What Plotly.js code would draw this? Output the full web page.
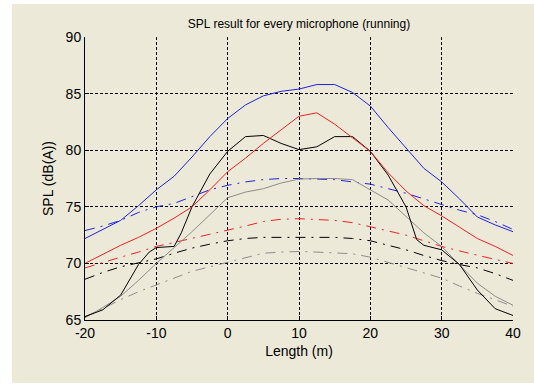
<!DOCTYPE html>
<html>
<head>
<meta charset="utf-8">
<script src="https://cdn.plot.ly/plotly-3.0.1.min.js"></script>
<style>
html,body{margin:0;padding:0;background:#ffffff;width:534px;height:385px;overflow:hidden;}
#chart{position:absolute;left:12px;top:4px;width:522px;height:379px;}
</style>
</head>
<body>
<div id="chart"></div>
<script>
// Data
var xPos = [-20,-17.5,-15,-12.5,-10,-7.5,-5,-2.5,0,2.5,5,7.5,10,12.5,15,17.5,20,22.5,25,27.5,30,32.5,35,37.5,40];
var blueSolid = [72.2,73.0,73.8,75.1,76.5,77.7,79.4,81.2,82.8,84.0,84.8,85.2,85.4,85.8,85.8,85.1,83.9,82.0,80.2,78.4,77.2,75.7,74.1,73.4,72.8];
var blueDash  = [72.9,73.3,73.8,74.5,75.0,75.3,75.9,76.5,76.9,77.2,77.4,77.5,77.5,77.45,77.4,77.2,77.0,76.6,76.2,75.7,75.2,74.7,74.3,73.7,73.0];
var redSolid  = [70.0,70.8,71.6,72.3,73.1,74.0,75.0,76.5,78.1,79.3,80.6,81.8,83.0,83.3,82.3,81.1,79.9,78.0,76.4,75.1,74.2,73.2,72.2,71.5,70.7];
var redDash   = [69.6,70.1,70.55,71.0,71.5,71.85,72.2,72.6,72.95,73.3,73.7,73.9,73.95,73.9,73.8,73.6,73.25,72.9,72.5,72.0,71.5,71.1,70.7,70.35,70.0];
var blackX    = [-20,-17.5,-15,-12.5,-11,-10,-7.5,-6.5,-5,-2.5,0,2.5,5,7.5,10,12.5,15,17.5,20,22.5,25,26.5,27.5,30,32.5,35,37.5,40];
var blackSolid= [65.3,65.9,67.2,69.9,71.0,71.4,71.5,72.7,75.0,77.9,79.9,81.2,81.3,80.6,80.05,80.3,81.2,81.2,79.9,77.8,75.0,72.1,71.6,71.2,69.9,67.65,66.0,65.4];
var blackDash = [68.6,69.2,69.7,70.05,70.4,70.9,71.35,71.7,72.0,72.2,72.3,72.3,72.3,72.3,72.3,72.2,72.0,71.6,71.2,70.7,70.25,69.9,69.6,69.1,68.5];
var graySolid = [65.2,66.1,67.1,68.5,70.0,71.4,72.8,74.3,75.8,76.3,76.6,77.1,77.45,77.5,77.5,77.4,76.5,75.6,74.15,72.7,71.5,69.9,68.25,67.1,66.3];
var grayDash  = [65.3,66.0,66.8,67.5,68.1,68.7,69.3,69.7,70.1,70.5,70.9,71.0,71.05,71.0,70.95,70.85,70.55,70.1,69.6,69.2,68.7,68.0,67.35,66.8,66.2];
var xTicks = [-20,-10,0,10,20,30,40];
var yTicks = [65,70,75,80,85,90];

var DD = "10px,6px,2px,6px";
function tr(x, y, color, dash){
  return {x:x, y:y, type:'scatter', mode:'lines', hoverinfo:'skip',
    line:{color:color, width:1, dash:dash||'solid'}};
}
var data = [
  tr(xPos, grayDash, '#8c8c8c', DD),
  tr(xPos, blackDash, '#000000', DD),
  tr(xPos, redDash, '#ee2222', DD),
  tr(xPos, blueDash, '#2222dd', DD),
  tr(xPos, graySolid, '#8c8c8c'),
  tr(blackX, blackSolid, '#000000'),
  tr(xPos, redSolid, '#ee2222'),
  tr(xPos, blueSolid, '#2222dd')
];
var bg = '#ece9d8';
var fnt = {family:'"Liberation Sans", Arial, sans-serif', size:14, color:'#000000'};
var layout = {
  width:522, height:379,
  paper_bgcolor:bg, plot_bgcolor:bg,
  margin:{l:73, r:21, t:33, b:63},
  showlegend:false,
  font:fnt,
  title:{text:'SPL result for every microphone (running)', font:{family:fnt.family, size:12, color:'#000'},
         x:0.5, xref:'paper', y:1, yref:'paper', yanchor:'bottom', pad:{b:9}},
  xaxis:{range:[-20,40], tickvals:xTicks, ticktext:xTicks.map(String), showgrid:true,
         gridcolor:'#000000', griddash:'3px,2px', gridwidth:1, zeroline:false,
         showline:true, linecolor:'#000000', linewidth:1, ticks:'inside', ticklen:4, tickcolor:'#000',
         title:{text:'Length (m)', font:fnt, standoff:6}, tickfont:fnt},
  yaxis:{range:[65,90], tickvals:yTicks, ticktext:yTicks.map(String), showgrid:true,
         gridcolor:'#000000', griddash:'3px,2px', gridwidth:1, zeroline:false,
         showline:true, linecolor:'#000000', linewidth:1, ticks:'inside', ticklen:4, tickcolor:'#000',
         title:{text:'SPL (dB(A))', font:fnt, standoff:8}, tickfont:fnt}
};
Plotly.newPlot('chart', data, layout, {staticPlot:true, displayModeBar:false});
</script>
</body>
</html>
